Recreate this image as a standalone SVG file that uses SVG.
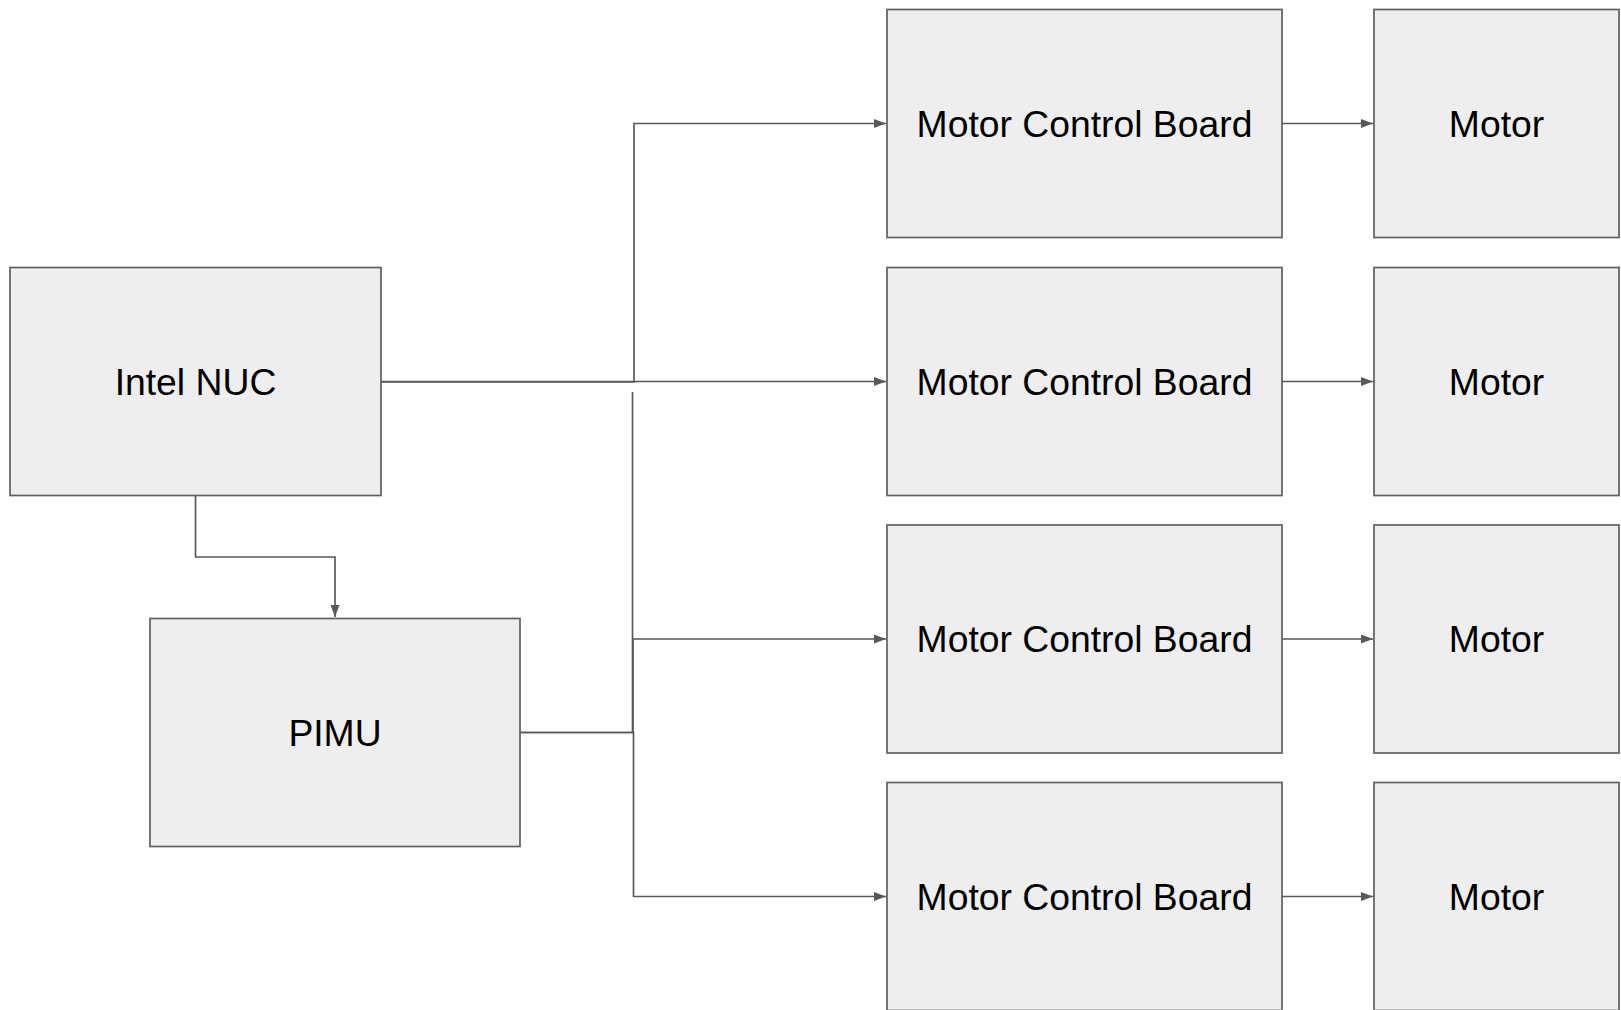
<svg xmlns="http://www.w3.org/2000/svg" width="1621" height="1010" viewBox="0 0 1621 1010">
<style>
.box{fill:#eeeeee;stroke:#5f5f5f;stroke-width:1.7}
.lbl{font-family:"Liberation Sans",Arial,sans-serif;font-size:37.3px;fill:#000;text-anchor:middle}
.conn{fill:none;stroke:#595959;stroke-width:1.7}
</style>
<defs>
<marker id="arr" markerUnits="userSpaceOnUse" markerWidth="12" markerHeight="9" refX="12" refY="4.5" orient="auto">
<path d="M0,0 L12,4.5 L0,9 Z" fill="#595959"/>
</marker>
</defs>
<rect width="1621" height="1010" fill="#ffffff"/>
<g id="connectors">
<path class="conn" d="M381,381.5 H886" marker-end="url(#arr)"/>
<path class="conn" d="M381,382 H634 V123.5 H886" marker-end="url(#arr)"/>
<path class="conn" d="M1282,123.5 H1373" marker-end="url(#arr)"/>
<path class="conn" d="M1282,381.5 H1373" marker-end="url(#arr)"/>
<path class="conn" d="M1282,639 H1373" marker-end="url(#arr)"/>
<path class="conn" d="M1282,896.5 H1373" marker-end="url(#arr)"/>
<path class="conn" d="M195.5,496 V557 H335 V617" marker-end="url(#arr)"/>
<path class="conn" d="M520,732.5 H633 V639 H886" marker-end="url(#arr)"/>
<path class="conn" d="M520,732.5 H633.5 V896.5 H886" marker-end="url(#arr)"/>
<path class="conn" d="M632.5,392 V732.5"/>
</g>
<g id="intel-nuc">
<rect class="box" x="10" y="267.5" width="371" height="228"/>
<text class="lbl" x="195.5" y="395">Intel NUC</text>
</g>
<g id="pimu">
<rect class="box" x="150" y="618.5" width="370" height="228"/>
<text class="lbl" x="335" y="745.5">PIMU</text>
</g>
<g id="mcb1">
<rect class="box" x="887" y="9.5" width="395" height="228"/>
<text class="lbl" x="1084.5" y="136.5">Motor Control Board</text>
</g>
<g id="mcb2">
<rect class="box" x="887" y="267.5" width="395" height="228"/>
<text class="lbl" x="1084.5" y="394.5">Motor Control Board</text>
</g>
<g id="mcb3">
<rect class="box" x="887" y="525" width="395" height="228"/>
<text class="lbl" x="1084.5" y="652">Motor Control Board</text>
</g>
<g id="mcb4">
<rect class="box" x="887" y="782.5" width="395" height="228"/>
<text class="lbl" x="1084.5" y="909.5">Motor Control Board</text>
</g>
<g id="motor1">
<rect class="box" x="1374" y="9.5" width="245" height="228"/>
<text class="lbl" x="1496.5" y="136.5">Motor</text>
</g>
<g id="motor2">
<rect class="box" x="1374" y="267.5" width="245" height="228"/>
<text class="lbl" x="1496.5" y="394.5">Motor</text>
</g>
<g id="motor3">
<rect class="box" x="1374" y="525" width="245" height="228"/>
<text class="lbl" x="1496.5" y="652">Motor</text>
</g>
<g id="motor4">
<rect class="box" x="1374" y="782.5" width="245" height="228"/>
<text class="lbl" x="1496.5" y="909.5">Motor</text>
</g>
</svg>
